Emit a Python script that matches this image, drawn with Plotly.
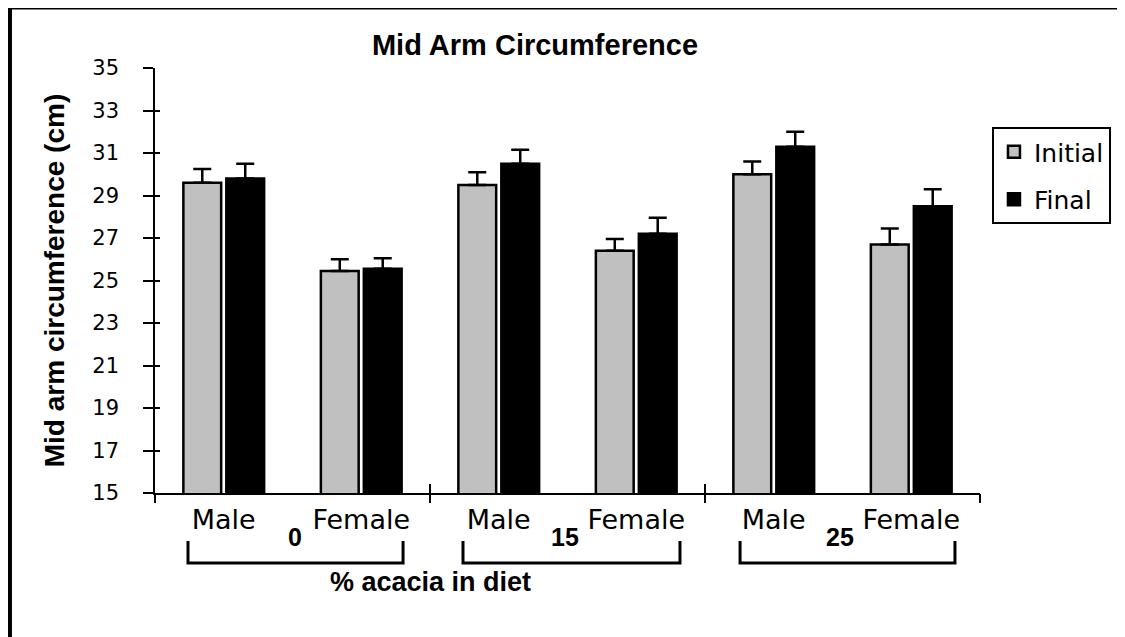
import plotly.graph_objects as go

# data
categories = ["Male", "Female", "Male", "Female", "Male", "Female"]
diet_groups = ["0", "15", "25"]
initial_vals = [29.6, 25.45, 29.5, 26.4, 30.0, 26.7]
initial_err = [0.65, 0.55, 0.6, 0.55, 0.6, 0.75]
final_vals = [29.8, 25.55, 30.5, 27.2, 31.3, 28.5]
final_err = [0.7, 0.5, 0.65, 0.75, 0.7, 0.8]
y_ticks = list(range(15, 36, 2))

positions = list(range(len(categories)))
group_bounds = [-0.5, 1.5, 3.5, 5.5]

BOLD = "Liberation Sans, Arial, sans-serif"
PLAIN = "DejaVu Sans, Arial, sans-serif"

fig = go.Figure()

fig.add_trace(
    go.Bar(
        x=positions,
        y=initial_vals,
        name="Initial",
        legendgroup="initial",
        marker=dict(color="#c0c0c0", line=dict(color="black", width=2.5)),
        error_y=dict(
            type="data", array=initial_err, symmetric=False,
            arrayminus=[0] * len(initial_err),
            color="black", thickness=2.5, width=9,
        ),
    )
)
fig.add_trace(
    go.Bar(
        x=positions,
        y=final_vals,
        name="Final",
        legendgroup="final",
        marker=dict(color="black", line=dict(color="black", width=2.5)),
        error_y=dict(
            type="data", array=final_err, symmetric=False,
            arrayminus=[0] * len(final_err),
            color="black", thickness=2.5, width=9,
        ),
    )
)

# outer frame: grey edge with a black border on the left and top
fig.add_shape(
    type="rect", xref="paper", yref="paper",
    x0=-0.1758, x1=1.2, y0=-0.4, y1=1.1424,
    fillcolor="white", line=dict(color="black", width=4), layer="below",
)

# brackets under each diet group
bracket_spans = [(-0.26, 1.304), (1.74, 3.318), (3.755, 5.318)]
for x0, x1 in bracket_spans:
    fig.add_shape(
        type="path", xref="x", yref="paper",
        path=f"M {x0},-0.113 L {x0},-0.1647 L {x1},-0.1647 L {x1},-0.113",
        line=dict(color="black", width=3),
    )

group_centers = [0.52, 2.48, 4.48]
for xc, lab in zip(group_centers, diet_groups):
    fig.add_annotation(
        x=xc, y=-0.104, xref="x", yref="paper", text=f"<b>{lab}</b>",
        xanchor="center", yanchor="middle",
        showarrow=False, font=dict(family=BOLD, size=25, color="black"),
    )

fig.add_annotation(
    x=1.5, y=-0.209, xref="x", yref="paper", text="<b>% acacia in diet</b>",
    xanchor="center", yanchor="middle",
    showarrow=False, font=dict(family=BOLD, size=27, color="black"),
)

# the page body adds an 8px margin, so the margins are shifted to compensate
fig.update_layout(
    width=1125,
    height=637,
    margin=dict(l=147, r=153, t=60, b=152),
    paper_bgcolor="#e8e4e4",
    plot_bgcolor="white",
    barmode="group",
    bargap=0.375,
    bargroupgap=0.12,
    title=dict(
        text="<b>Mid Arm Circumference</b>",
        x=0.4606, xanchor="center", xref="paper",
        y=0.942, yanchor="middle", yref="container",
        font=dict(family=BOLD, size=29, color="black"),
    ),
    legend=dict(
        x=1.0145, y=0.861, xanchor="left", yanchor="top",
        bgcolor="white", bordercolor="black", borderwidth=2,
        font=dict(family=PLAIN, size=25, color="black"),
        tracegroupgap=12,
    ),
    xaxis=dict(
        range=[-0.5, 5.5],
        tickvals=positions,
        ticktext=categories,
        ticks="",
        showline=True, linecolor="black", linewidth=1.5,
        showgrid=False, zeroline=False,
        tickfont=dict(family=PLAIN, size=27, color="black"),
        ticklabelstandoff=2,
    ),
    xaxis2=dict(
        overlaying="x", anchor="y", side="bottom",
        range=[-0.5, 5.5], tickvals=group_bounds,
        ticks="outside", ticklen=9, tickwidth=1.5, tickcolor="black",
        showticklabels=False, showgrid=False, zeroline=False, showline=False,
    ),
    xaxis3=dict(
        overlaying="x", anchor="y", side="bottom",
        range=[-0.5, 5.5], tickvals=group_bounds,
        ticks="inside", ticklen=9, tickwidth=1.5, tickcolor="black",
        showticklabels=False, showgrid=False, zeroline=False, showline=False,
    ),
    yaxis=dict(
        range=[15, 35],
        tickvals=y_ticks,
        ticks="outside", ticklen=10, tickwidth=1.5, tickcolor="black",
        showline=True, linecolor="black", linewidth=1.5,
        showgrid=False, zeroline=False,
        tickfont=dict(family=PLAIN, size=21, color="black"),
        ticklabelstandoff=20,
        title=dict(
            text="<b>Mid arm circumference (cm)</b>",
            font=dict(family=BOLD, size=28, color="black"),
            standoff=20,
        ),
    ),
    yaxis2=dict(
        overlaying="y", anchor="x", side="left",
        range=[15, 35], tickvals=y_ticks,
        ticks="inside", ticklen=5, tickwidth=1.5, tickcolor="black",
        showticklabels=False, showgrid=False, zeroline=False, showline=False,
    ),
)

# dummy invisible traces so the overlay axes are drawn
fig.add_trace(go.Scatter(x=[None], y=[None], xaxis="x2", yaxis="y2",
                         showlegend=False, hoverinfo="skip"))
fig.add_trace(go.Scatter(x=[None], y=[None], xaxis="x3", yaxis="y",
                         showlegend=False, hoverinfo="skip"))

fig.write_html("out.html")
